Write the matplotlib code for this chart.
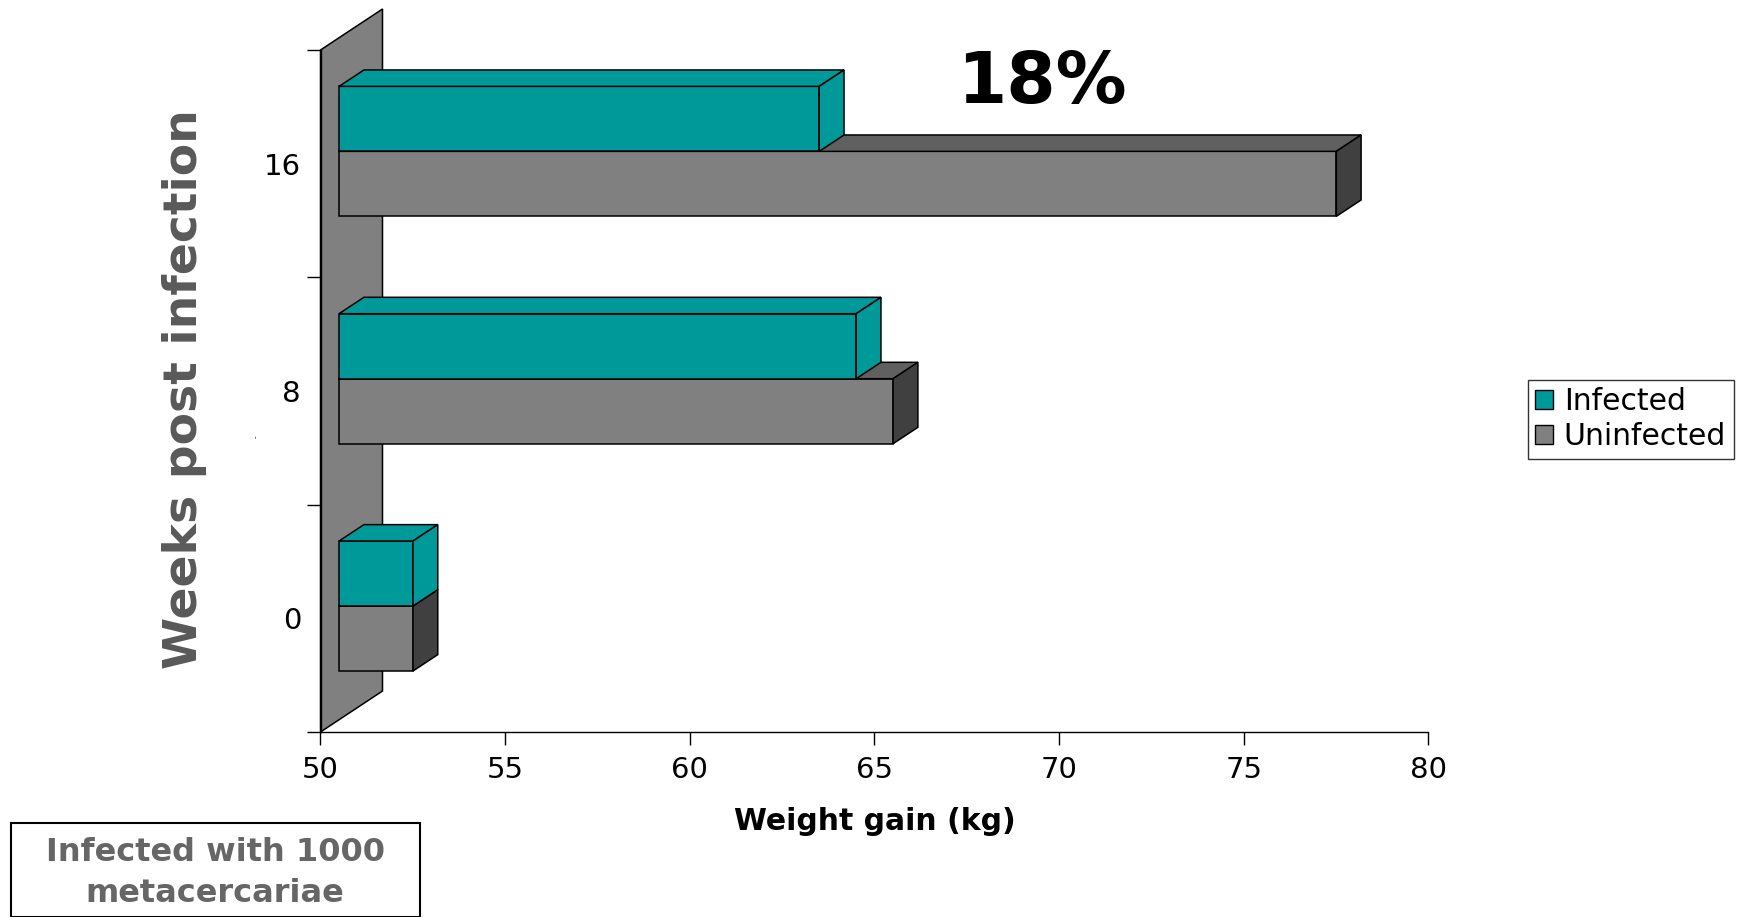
import numpy as np
import matplotlib.pyplot as plt
from matplotlib.patches import Polygon, Patch, Rectangle

weeks = ["0", "8", "16"]
infected = [52, 64, 63]
uninfected = [52, 65, 77]
xmin, xmax = 50, 80

teal = "#009999"
gray = "#808080"
gray_top = "#606060"
gray_side = "#404040"

W, H = 1739, 917
fig = plt.figure(figsize=(W / 100, H / 100), dpi=100)
ax_l, ax_r, ax_t, ax_b = 320.5, 1428.5, 50, 732
ax = fig.add_axes([ax_l / W, 1 - ax_b / H, (ax_r - ax_l) / W, (ax_b - ax_t) / H])
ax.set_xlim(xmin, xmax)
ax.set_ylim(0, len(weeks))

# pixel -> data scale
px_x = (ax_r - ax_l) / (xmax - xmin)
px_y = (ax_b - ax_t) / len(weeks)
# depth of the wall in data units
ddx, ddy = 62 / px_x, 41 / px_y


def poly(pts, fc, z):
    ax.add_patch(Polygon(pts, closed=True, facecolor=fc, edgecolor="black",
                         linewidth=1.1, clip_on=False, zorder=z))


# back wall
poly([(xmin, 0), (xmin, 3), (xmin + ddx, 3 + ddy), (xmin + ddx, ddy)], gray, 1)

# 3d bars
f0, f1 = 0.3, 0.7
bh = 65 / px_y
bdx, bdy = (f1 - f0) * ddx, (f1 - f0) * ddy


def bar3d(x0, x1, y0, y1, front, top, side, z):
    poly([(x0, y0), (x1, y0), (x1, y1), (x0, y1)], front, z)
    poly([(x0, y1), (x1, y1), (x1 + bdx, y1 + bdy), (x0 + bdx, y1 + bdy)], top, z)
    poly([(x1, y0), (x1 + bdx, y0 + bdy), (x1 + bdx, y1 + bdy), (x1, y1)], side, z)


sx, sy = f0 * ddx, f0 * ddy
for i in range(len(weeks)):
    c = i + 0.5 + sy
    bar3d(xmin + sx, uninfected[i] + sx, c - bh, c, gray, gray_top, gray_side, 2 + i * 2)
    bar3d(xmin + sx, infected[i] + sx, c, c + bh, teal, teal, teal, 3 + i * 2)

ax.set_xticks(range(50, 81, 5))
ax.tick_params(axis="x", direction="out", length=9, width=1, pad=8, labelsize=21)
ax.set_yticks([0, 1, 2, 3])
ax.set_yticklabels([])
ax.set_yticks([0.5, 1.5, 2.5], minor=True)
ax.set_yticklabels(weeks, minor=True)
ax.tick_params(axis="y", which="major", direction="out", length=10, width=1)
ax.tick_params(axis="y", which="minor", length=0, pad=14, labelsize=21)
for s in ["top", "right"]:
    ax.spines[s].set_visible(False)
for s in ["left", "bottom"]:
    ax.spines[s].set_linewidth(1)
ax.set_facecolor("none")

fig.text(874.5 / W, 1 - 821 / H, "Weight gain (kg)", fontsize=21.5, fontweight="bold",
         ha="center", va="center")
fig.text(185 / W, 1 - 388.7 / H, "Weeks post infection", rotation=90, fontsize=34,
         fontweight="bold", color="#595959", ha="center", va="center")
fig.text(256 / W, 1 - 437 / H, "-", rotation=90, fontsize=5, ha="center", va="center")

fig.text(1042 / W, 1 - 83 / H, "18%", fontsize=51, fontweight="bold",
         ha="center", va="center")

leg = fig.legend(handles=[Patch(facecolor=teal, edgecolor="black", label="Infected"),
                          Patch(facecolor=gray, edgecolor="black", label="Uninfected")],
                 loc="upper left", bbox_to_anchor=(1528 / W, 1 - 380 / H),
                 fontsize=21.5, frameon=True, fancybox=False, edgecolor="black",
                 handlelength=0.6, handleheight=0.6, handletextpad=0.35,
                 borderpad=0.25, labelspacing=0.2, borderaxespad=0)
leg.get_frame().set_linewidth(1)

fig.add_artist(Rectangle((11 / W, 0), (420 - 11) / W, (H - 823) / H,
                         transform=fig.transFigure, facecolor="white",
                         edgecolor="black", linewidth=1.5))
fig.text(215 / W, 1 - 873 / H, "Infected with 1000\nmetacercariae", fontsize=23,
         fontweight="bold", color="#666666", ha="center", va="center",
         linespacing=1.4)

fig.savefig("out.png", dpi=100)
